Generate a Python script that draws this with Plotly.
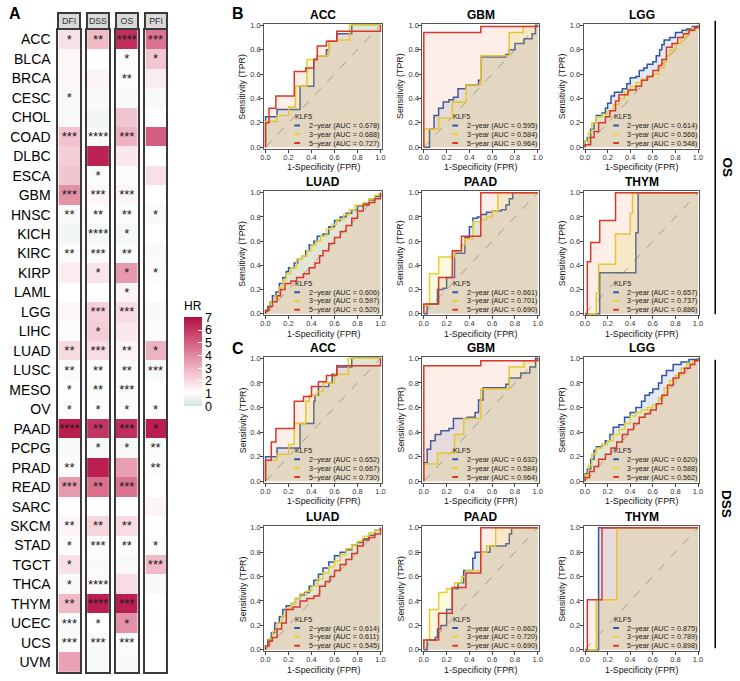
import plotly.graph_objects as go

W, H = 740, 681
FONT = "Arial, Liberation Sans, Helvetica, sans-serif"

# ---------------- Heatmap data (panel A) ----------------
cancers = ["ACC", "BLCA", "BRCA", "CESC", "CHOL", "COAD", "DLBC", "ESCA", "GBM", "HNSC",
           "KICH", "KIRC", "KIRP", "LAML", "LGG", "LIHC", "LUAD", "LUSC", "MESO", "OV",
           "PAAD", "PCPG", "PRAD", "READ", "SARC", "SKCM", "STAD", "TGCT", "THCA", "THYM",
           "UCEC", "UCS", "UVM"]
endpoints = ["DFI", "DSS", "OS", "PFI"]

hr_dfi = [1.8, 1.25, 1.2, 0.8, 0.8, 2.6, 2.3, 2.5, 3.8, 0.85, 0.7, 0.88, 1.5, 1.0, 1.2, 1.1, 2.0,
          0.88, 1.05, 1.05, 6.6, 0.85, 0.88, 3.6, 1.05, 1.3, 0.9, 1.8, 0.85, 2.8, 0.85, 0.88, 3.4]
hr_dss = [2.8, 1.05, 1.3, 0.85, 0.7, 0.85, 6.5, 0.88, 1.2, 0.9, 0.75, 0.9, 1.7, 1.0, 2.2, 2.3, 1.9,
          0.9, 0.9, 1.05, 6.0, 0.85, 6.6, 4.6, 0.95, 2.1, 0.9, 0.85, 1.15, 6.6, 1.0, 0.85, 0.85]
hr_os = [6.2, 0.9, 0.9, 0.85, 2.5, 3.0, 1.6, 0.9, 1.25, 0.9, 0.75, 0.9, 3.6, 1.3, 1.9, 1.6, 1.3,
         0.9, 0.9, 1.05, 6.2, 0.8, 3.5, 4.5, 1.0, 1.9, 0.9, 0.8, 1.9, 6.6, 3.8, 0.9, 0.85]
hr_pfi = [4.5, 2.5, 1.5, 0.85, 1.0, 5.0, 1.0, 1.8, 1.0, 0.85, 1.0, 0.85, 0.9, 1.0, 0.85, 1.1, 3.0,
          0.85, 1.0, 1.05, 6.6, 0.9, 0.9, 1.0, 1.3, 1.0, 0.9, 2.8, 0.85, 1.0, 0.95, 1.0, 1.0]

sig_dfi = ["*", "", "", "*", "", "***", "", "", "***", "**", "", "**", "", "", "", "", "**",
           "**", "*", "*", "****", "", "**", "***", "", "**", "*", "*", "*", "**", "***", "***", ""]
sig_dss = ["**", "", "", "", "", "****", "", "*", "***", "**", "****", "***", "*", "", "***", "*", "***",
           "**", "**", "*", "**", "*", "", "**", "", "**", "***", "", "****", "****", "*", "***", ""]
sig_os = ["****", "*", "**", "", "", "***", "", "", "***", "**", "*", "**", "*", "*", "***", "", "**",
          "**", "***", "*", "***", "*", "", "***", "", "**", "**", "", "", "***", "*", "***", ""]
sig_pfi = ["***", "*", "", "", "", "", "", "", "", "*", "", "", "*", "", "", "", "*",
           "***", "", "*", "*", "**", "**", "", "", "", "*", "***", "", "", "", "", ""]

hr_cols = [hr_dfi, hr_dss, hr_os, hr_pfi]
sig_cols = [sig_dfi, sig_dss, sig_os, sig_pfi]
hr_ticks = [0, 1, 2, 3, 4, 5, 6, 7]

# ---------------- ROC data (panels B: OS, C: DSS) ----------------
# each curve: (FPR breakpoints, TPR levels) drawn as horizontal-then-vertical steps
os_acc_2y = ([0, 0, 0.10, 0.30, 0.42, 0.45, 0.53, 0.55, 0.62, 0.75, 1.0],
             [0, 0.25, 0.31, 0.50, 0.72, 0.75, 0.80, 0.87, 0.93, 1.0, 1.0])
os_acc_3y = ([0, 0, 0.10, 0.20, 0.26, 0.36, 0.45, 0.55, 0.62, 0.73, 1.0],
             [0, 0.21, 0.26, 0.33, 0.50, 0.72, 0.75, 0.87, 0.88, 1.0, 1.0])
os_acc_5y = ([0, 0, 0.03, 0.09, 0.25, 0.35, 0.42, 0.45, 0.53, 0.62, 1.0, 1.0],
             [0, 0.20, 0.32, 0.42, 0.62, 0.65, 0.72, 0.83, 0.87, 0.95, 0.95, 1.0])

os_gbm_2y = ([0, 0.05, 0.09, 0.13, 0.17, 0.22, 0.26, 0.30, 0.37, 0.48, 0.50, 0.72, 0.75, 0.80, 0.88, 0.95, 0.98, 1.0],
             [0, 0.15, 0.26, 0.32, 0.37, 0.39, 0.41, 0.48, 0.51, 0.55, 0.74, 0.76, 0.80, 0.85, 0.89, 0.93, 1.0, 1.0])
os_gbm_3y = ([0, 0, 0.13, 0.25, 0.37, 0.50, 0.75, 0.87, 1.0],
             [0, 0.15, 0.24, 0.37, 0.51, 0.75, 0.94, 0.99, 1.0])
os_gbm_5y = ([0, 0, 0.50, 1.0, 1.0],
             [0, 0.94, 0.99, 0.99, 1.0])

os_lgg_2y = ([0, 0, 0.02, 0.05, 0.08, 0.10, 0.15, 0.18, 0.20, 0.23, 0.26, 0.33, 0.37, 0.40, 0.45, 0.48, 0.52,
              0.55, 0.60, 0.63, 0.66, 0.68, 0.70, 0.75, 0.80, 0.86, 0.90, 0.95, 1.0],
             [0, 0.05, 0.08, 0.15, 0.20, 0.26, 0.28, 0.32, 0.36, 0.42, 0.45, 0.48, 0.52, 0.57, 0.58, 0.63, 0.65,
              0.68, 0.70, 0.75, 0.80, 0.84, 0.88, 0.90, 0.94, 0.96, 0.97, 0.99, 1.0])
os_lgg_3y = ([0, 0, 0.03, 0.06, 0.10, 0.15, 0.20, 0.25, 0.30, 0.35, 0.40, 0.45, 0.50, 0.55, 0.60, 0.65, 0.70,
              0.72, 0.75, 0.80, 0.85, 0.90, 0.95, 1.0],
             [0, 0.05, 0.12, 0.20, 0.25, 0.27, 0.30, 0.35, 0.40, 0.45, 0.50, 0.53, 0.56, 0.58, 0.60, 0.65, 0.70,
              0.75, 0.80, 0.85, 0.90, 0.95, 0.98, 1.0])
os_lgg_5y = ([0, 0, 0.05, 0.08, 0.12, 0.18, 0.22, 0.27, 0.30, 0.38, 0.45, 0.50, 0.55, 0.60, 0.65, 0.68, 0.72,
              0.77, 0.82, 0.87, 0.92, 0.97, 1.0],
             [0, 0.02, 0.08, 0.13, 0.20, 0.25, 0.30, 0.38, 0.43, 0.47, 0.50, 0.55, 0.58, 0.63, 0.67, 0.72, 0.82,
              0.85, 0.90, 0.93, 0.96, 0.98, 1.0])

os_luad_2y = ([0, 0, 0.02, 0.04, 0.06, 0.09, 0.12, 0.15, 0.18, 0.20, 0.25, 0.28, 0.32, 0.35, 0.38, 0.42, 0.45,
               0.50, 0.55, 0.60, 0.65, 0.70, 0.75, 0.80, 0.85, 0.90, 0.95, 1.0],
              [0, 0.02, 0.06, 0.10, 0.15, 0.18, 0.25, 0.30, 0.35, 0.38, 0.42, 0.45, 0.48, 0.52, 0.57, 0.60, 0.64,
               0.66, 0.72, 0.77, 0.80, 0.83, 0.86, 0.89, 0.91, 0.94, 0.97, 1.0])
os_luad_3y = ([0, 0, 0.04, 0.08, 0.12, 0.15, 0.18, 0.22, 0.27, 0.32, 0.36, 0.40, 0.44, 0.48, 0.53, 0.58, 0.62,
               0.68, 0.73, 0.78, 0.85, 0.90, 0.95, 1.0],
              [0, 0.03, 0.10, 0.15, 0.22, 0.28, 0.33, 0.38, 0.45, 0.48, 0.52, 0.57, 0.60, 0.64, 0.70, 0.74, 0.78,
               0.82, 0.86, 0.90, 0.92, 0.95, 0.98, 1.0])
os_luad_5y = ([0, 0, 0.03, 0.06, 0.10, 0.13, 0.17, 0.22, 0.27, 0.33, 0.38, 0.43, 0.47, 0.50, 0.55, 0.60, 0.65,
               0.70, 0.75, 0.80, 0.85, 0.90, 0.95, 1.0],
              [0, 0.03, 0.06, 0.10, 0.15, 0.20, 0.25, 0.27, 0.30, 0.33, 0.38, 0.42, 0.48, 0.52, 0.58, 0.63, 0.68,
               0.73, 0.79, 0.85, 0.90, 0.92, 0.95, 1.0])

os_paad_2y = ([0, 0.03, 0.12, 0.17, 0.20, 0.27, 0.36, 0.40, 0.43, 0.47, 0.50, 0.55, 0.60, 0.68, 0.72, 0.75, 0.78, 1.0],
              [0, 0.08, 0.20, 0.21, 0.30, 0.50, 0.63, 0.72, 0.79, 0.80, 0.82, 0.84, 0.85, 0.86, 0.90, 0.95, 1.0, 1.0])
os_paad_3y = ([0, 0, 0.05, 0.13, 0.27, 0.33, 0.36, 0.43, 0.50, 0.55, 0.60, 0.65, 1.0],
              [0, 0.07, 0.33, 0.47, 0.52, 0.57, 0.62, 0.76, 0.78, 0.80, 0.85, 1.0, 1.0])
os_paad_5y = ([0, 0, 0.13, 0.25, 0.33, 0.50, 1.0],
              [0, 0.08, 0.30, 0.52, 0.64, 1.0, 1.0])

os_thym_2y = ([0, 0.13, 0.45, 0.47, 1.0],
              [0, 0.34, 0.67, 1.0, 1.0])
os_thym_3y = ([0, 0.10, 0.12, 0.27, 0.40, 0.42, 1.0],
              [0, 0.17, 0.41, 0.66, 0.83, 1.0, 1.0])
os_thym_5y = ([0, 0.02, 0.05, 0.13, 0.27, 1.0],
              [0, 0.43, 0.59, 0.77, 1.0, 1.0])

dss_acc_2y = ([0, 0, 0.10, 0.30, 0.42, 0.43, 0.46, 0.55, 0.58, 0.62, 0.75, 1.0],
              [0, 0.20, 0.27, 0.47, 0.65, 0.70, 0.77, 0.80, 0.87, 0.93, 1.0, 1.0])
dss_acc_3y = ([0, 0, 0.10, 0.20, 0.25, 0.35, 0.38, 0.45, 0.50, 0.60, 0.72, 1.0],
              [0, 0.17, 0.22, 0.30, 0.47, 0.65, 0.70, 0.73, 0.80, 0.87, 1.0, 1.0])
dss_acc_5y = ([0, 0, 0.05, 0.09, 0.25, 0.33, 0.40, 0.46, 0.53, 0.62, 1.0, 1.0],
              [0, 0.17, 0.32, 0.43, 0.65, 0.69, 0.77, 0.81, 0.86, 0.94, 0.94, 1.0])

dss_gbm_2y = ([0, 0, 0.03, 0.06, 0.10, 0.15, 0.22, 0.26, 0.38, 0.45, 0.48, 0.52, 0.72, 0.75, 0.85, 0.93, 0.98, 1.0],
              [0, 0.15, 0.26, 0.33, 0.38, 0.41, 0.43, 0.51, 0.52, 0.56, 0.66, 0.76, 0.79, 0.84, 0.88, 0.93, 1.0, 1.0])
dss_gbm_3y = ([0, 0, 0.12, 0.27, 0.35, 0.50, 0.75, 0.88, 1.0],
              [0, 0.14, 0.23, 0.38, 0.51, 0.75, 0.93, 0.98, 1.0])
dss_gbm_5y = ([0, 0, 0.50, 1.0, 1.0],
              [0, 0.94, 0.98, 0.98, 1.0])

dss_lgg_2y = ([0, 0, 0.02, 0.05, 0.08, 0.10, 0.15, 0.18, 0.22, 0.25, 0.30, 0.35, 0.40, 0.45, 0.50, 0.53, 0.57,
               0.60, 0.65, 0.68, 0.72, 0.78, 0.85, 0.92, 1.0],
              [0, 0.06, 0.10, 0.18, 0.25, 0.28, 0.30, 0.33, 0.38, 0.44, 0.46, 0.52, 0.56, 0.60, 0.65, 0.70, 0.72,
               0.75, 0.80, 0.86, 0.90, 0.95, 0.97, 0.99, 1.0])
dss_lgg_3y = ([0, 0, 0.03, 0.06, 0.10, 0.15, 0.20, 0.25, 0.30, 0.35, 0.40, 0.45, 0.50, 0.55, 0.60, 0.65, 0.70,
               0.75, 0.80, 0.85, 0.90, 0.95, 1.0],
              [0, 0.05, 0.13, 0.22, 0.27, 0.30, 0.33, 0.38, 0.42, 0.47, 0.53, 0.56, 0.58, 0.60, 0.62, 0.68, 0.76,
               0.82, 0.86, 0.92, 0.96, 0.98, 1.0])
dss_lgg_5y = ([0, 0, 0.04, 0.08, 0.12, 0.18, 0.23, 0.28, 0.33, 0.38, 0.43, 0.48, 0.53, 0.58, 0.63, 0.68, 0.73,
               0.78, 0.83, 0.88, 0.93, 0.97, 1.0],
              [0, 0.03, 0.08, 0.12, 0.18, 0.22, 0.27, 0.32, 0.38, 0.42, 0.47, 0.52, 0.55, 0.58, 0.63, 0.70, 0.78,
               0.84, 0.88, 0.92, 0.95, 0.98, 1.0])

dss_luad_2y = ([0, 0, 0.02, 0.05, 0.08, 0.12, 0.15, 0.18, 0.22, 0.26, 0.30, 0.34, 0.38, 0.42, 0.46, 0.50, 0.55,
                0.60, 0.65, 0.70, 0.75, 0.80, 0.85, 0.90, 0.95, 1.0],
               [0, 0.03, 0.08, 0.14, 0.22, 0.27, 0.33, 0.36, 0.38, 0.42, 0.45, 0.47, 0.52, 0.57, 0.62, 0.67, 0.72,
                0.77, 0.80, 0.82, 0.86, 0.88, 0.91, 0.94, 0.98, 1.0])
dss_luad_3y = ([0, 0, 0.03, 0.06, 0.10, 0.14, 0.18, 0.22, 0.26, 0.30, 0.35, 0.40, 0.45, 0.50, 0.55, 0.60, 0.65,
                0.70, 0.75, 0.80, 0.85, 0.90, 0.95, 1.0],
               [0, 0.03, 0.09, 0.15, 0.22, 0.28, 0.34, 0.38, 0.42, 0.46, 0.48, 0.52, 0.58, 0.63, 0.68, 0.73, 0.78,
                0.83, 0.86, 0.89, 0.93, 0.96, 0.98, 1.0])
dss_luad_5y = ([0, 0, 0.03, 0.06, 0.10, 0.14, 0.18, 0.24, 0.30, 0.36, 0.42, 0.47, 0.52, 0.56, 0.60, 0.65, 0.70,
                0.75, 0.80, 0.85, 0.90, 0.95, 1.0],
               [0, 0.03, 0.07, 0.10, 0.17, 0.22, 0.33, 0.35, 0.40, 0.42, 0.44, 0.52, 0.56, 0.60, 0.65, 0.70, 0.74,
                0.79, 0.85, 0.90, 0.92, 0.95, 1.0])

dss_paad_2y = ([0, 0.03, 0.10, 0.12, 0.15, 0.20, 0.25, 0.30, 0.35, 0.43, 0.45, 0.58, 0.72, 0.75, 0.77, 1.0],
               [0, 0.08, 0.10, 0.17, 0.20, 0.33, 0.50, 0.55, 0.65, 0.75, 0.80, 0.85, 0.87, 0.95, 1.0, 1.0])
dss_paad_3y = ([0, 0, 0.05, 0.13, 0.20, 0.27, 0.33, 0.37, 0.50, 0.55, 0.63, 1.0],
               [0, 0.08, 0.33, 0.47, 0.50, 0.55, 0.60, 0.65, 0.80, 0.85, 1.0, 1.0])
dss_paad_5y = ([0, 0, 0.13, 0.25, 0.37, 0.50, 1.0],
               [0, 0.08, 0.30, 0.51, 0.63, 1.0, 1.0])

dss_thym_2y = ([0, 0.12, 1.0],
               [0, 1.0, 1.0])
dss_thym_3y = ([0, 0.10, 0.28, 1.0],
               [0, 0.41, 1.0, 1.0])
dss_thym_5y = ([0, 0.02, 0.15, 1.0],
               [0, 0.41, 1.0, 1.0])

roc_titles = ["ACC", "GBM", "LGG", "LUAD", "PAAD", "THYM"]
os_curves = [(os_acc_2y, os_acc_3y, os_acc_5y), (os_gbm_2y, os_gbm_3y, os_gbm_5y),
             (os_lgg_2y, os_lgg_3y, os_lgg_5y), (os_luad_2y, os_luad_3y, os_luad_5y),
             (os_paad_2y, os_paad_3y, os_paad_5y), (os_thym_2y, os_thym_3y, os_thym_5y)]
dss_curves = [(dss_acc_2y, dss_acc_3y, dss_acc_5y), (dss_gbm_2y, dss_gbm_3y, dss_gbm_5y),
              (dss_lgg_2y, dss_lgg_3y, dss_lgg_5y), (dss_luad_2y, dss_luad_3y, dss_luad_5y),
              (dss_paad_2y, dss_paad_3y, dss_paad_5y), (dss_thym_2y, dss_thym_3y, dss_thym_5y)]
os_auc = [(0.678, 0.688, 0.727), (0.595, 0.584, 0.964), (0.614, 0.566, 0.548),
          (0.606, 0.597, 0.520), (0.661, 0.701, 0.690), (0.657, 0.737, 0.886)]
dss_auc = [(0.652, 0.667, 0.730), (0.632, 0.584, 0.964), (0.620, 0.588, 0.562),
           (0.614, 0.611, 0.545), (0.662, 0.720, 0.690), (0.875, 0.789, 0.898)]
year_labels = ["2\u2212year", "3\u2212year", "5\u2212year"]
roc_ticks = [0, 0.2, 0.4, 0.6, 0.8, 1.0]

# ---------------- styling ----------------
line_colors = ["#2F57A5", "#E3D132", "#D8372C"]
fill_colors = ["rgba(47,87,165,0.13)", "rgba(227,209,50,0.16)", "rgba(240,120,70,0.13)"]


def fx(p):
    return p / W


def fy(p):
    return 1 - p / H


col_px = [(264, 381), (424, 540), (587, 702)]
row_px = [(22, 146), (191, 314), (358, 483), (529, 653)]

fig = go.Figure()
layout = dict(width=W, height=H, margin=dict(l=0, r=0, t=0, b=0),
              paper_bgcolor="white", plot_bgcolor="white", showlegend=False,
              font=dict(family=FONT, color="#000"))
annotations = []
shapes = []


def axname(k):
    return ("xaxis" if k == 1 else f"xaxis{k}"), ("yaxis" if k == 1 else f"yaxis{k}")


def axref(k):
    return ("x" if k == 1 else f"x{k}"), ("y" if k == 1 else f"y{k}")


k = 0
for block, (curves_set, aucs_set) in enumerate([(os_curves, os_auc), (dss_curves, dss_auc)]):
    for i in range(6):
        k += 1
        r = block * 2 + i // 3
        c = i % 3
        xl, xr = col_px[c]
        yt, yb = row_px[r]
        xa, ya = axname(k)
        xref, yref = axref(k)
        axis_common = dict(range=[-0.012, 1.012], showgrid=False, zeroline=False,
                           showline=True, mirror=True, linecolor="#555", linewidth=1,
                           ticks="outside", ticklen=3, tickcolor="#444", tickwidth=1,
                           tickvals=roc_ticks, ticktext=[f"{v:.1f}" for v in roc_ticks],
                           tickfont=dict(size=7.5, color="#333"), ticklabelstandoff=-2,
                           fixedrange=True)
        layout[xa] = dict(axis_common, domain=[fx(xl - 1), fx(xr + 1)], anchor=yref)
        layout[ya] = dict(axis_common, domain=[fy(yb + 1), fy(yt - 1)], anchor=xref)
        # diagonal reference
        fig.add_trace(go.Scatter(x=[0, 1], y=[0, 1], mode="lines", xaxis=xref, yaxis=yref,
                                 line=dict(color="#8a8a8a", width=0.8, dash="dash"),
                                 hoverinfo="skip"))
        for j, (xs, ys) in enumerate(curves_set[i]):
            fig.add_trace(go.Scatter(x=xs, y=ys, mode="lines", xaxis=xref, yaxis=yref,
                                     line=dict(color=line_colors[j], width=1.5, shape="hv"),
                                     fill="tozeroy", fillcolor=fill_colors[j]))
        # title + axis titles
        annotations.append(dict(text=f"<b>{roc_titles[i]}</b>", xref="paper", yref="paper",
                                x=fx((xl + xr) / 2), y=fy(yt - 10), showarrow=False,
                                font=dict(size=12, color="#000"), xanchor="center", yanchor="middle"))
        annotations.append(dict(text="1-Specificity (FPR)", xref="paper", yref="paper",
                                x=fx((xl + xr) / 2), y=fy(yb + 19.5), showarrow=False,
                                font=dict(size=8.8, color="#111"), xanchor="center", yanchor="middle"))
        annotations.append(dict(text="Sensitivity (TPR)", xref="paper", yref="paper",
                                x=fx(xl - 23), y=fy((yt + yb) / 2), showarrow=False, textangle=-90,
                                font=dict(size=8.8, color="#111"), xanchor="center", yanchor="middle"))
        # legend
        annotations.append(dict(text="KLF5", xref=xref, yref=yref, x=0.245, y=0.25,
                                showarrow=False, xanchor="left", yanchor="middle", borderpad=0,
                                font=dict(size=7.2, color="#222")))
        for j, yy in enumerate([0.178, 0.106, 0.034]):
            annotations.append(dict(text=f"{year_labels[j]} (AUC = {aucs_set[i][j]:.3f})",
                                    xref=xref, yref=yref, x=1.0, y=yy, showarrow=False,
                                    xanchor="right", yanchor="middle", borderpad=0,
                                    font=dict(size=7.2, color="#222")))
            shapes.append(dict(type="line", xref=xref, yref=yref, x0=0.25, x1=0.3, y0=yy, y1=yy,
                               line=dict(color=line_colors[j], width=2)))

# ---------------- heatmap columns ----------------
hm_px = [(55, 77), (84, 106), (113, 135), (143, 164)]
hm_top, hm_bot = 27, 675
colorscale = [[0.0, "#D2E2DD"], [1 / 7, "#FFFFFF"], [3 / 7, "#EEB3C1"],
              [5 / 7, "#D35F80"], [1.0, "#B10F42"]]
for n in range(4):
    k += 1
    xa, ya = axname(k)
    xref, yref = axref(k)
    xl, xr = hm_px[n]
    trace = go.Heatmap(z=[[v] for v in hr_cols[n]], x=[endpoints[n]], y=cancers,
                       text=[[s] for s in sig_cols[n]], texttemplate="%{text}",
                       textfont=dict(size=13, color="#1a1a1a"),
                       colorscale=colorscale, zmin=0, zmax=7, xaxis=xref, yaxis=yref,
                       showscale=(n == 0))
    if n == 0:
        trace.colorbar = dict(x=fx(182), xanchor="left", y=fy(298), yanchor="top",
                              len=(407 - 298) / H, lenmode="fraction", thickness=18,
                              thicknessmode="pixels",
                              outlinewidth=0, tickvals=hr_ticks, ticks="inside", tickcolor="white",
                              ticklen=4, tickfont=dict(size=12.5, color="#000"), xpad=0, ypad=0,
                              title=dict(text="HR", side="top", font=dict(size=12, color="#000")))
    fig.add_trace(trace)
    layout[xa] = dict(domain=[fx(xl), fx(xr)], anchor=yref, showticklabels=False, ticks="",
                      showgrid=False, zeroline=False, showline=True, mirror=True,
                      linecolor="#3a3a3a", linewidth=2, fixedrange=True)
    layout[ya] = dict(domain=[fy(hm_bot), fy(hm_top)], anchor=xref, autorange="reversed",
                      showticklabels=(n == 0), ticks="", showgrid=False, zeroline=False,
                      showline=True, mirror=True, linecolor="#3a3a3a", linewidth=2,
                      tickfont=dict(size=14, color="#000"), ticklabelstandoff=3, fixedrange=True)
    annotations.append(dict(text=endpoints[n], xref="paper", yref="paper",
                            x=fx((xl + xr) / 2), y=fy(18.5), showarrow=False,
                            xanchor="center", yanchor="middle", width=18, height=12,
                            bgcolor="#D9D9D9", bordercolor="#3a3a3a", borderwidth=2, borderpad=1,
                            font=dict(size=8.8, color="#333")))

# ---------------- panel letters and side labels ----------------
for letter, (px, py) in {"A": (11, 11), "B": (237, 11), "C": (237, 349)}.items():
    annotations.append(dict(text=f"<b>{letter}</b>", xref="paper", yref="paper", x=fx(px), y=fy(py),
                            showarrow=False, xanchor="center", yanchor="middle",
                            font=dict(size=16, color="#000")))
for label, (y0, y1) in {"OS": (18, 314), "DSS": (360, 651)}.items():
    shapes.append(dict(type="line", xref="paper", yref="paper", x0=fx(719), x1=fx(719),
                       y0=fy(y0), y1=fy(y1), line=dict(color="#000", width=1.5)))
    annotations.append(dict(text=f"<b>{label}</b>", xref="paper", yref="paper", x=fx(731),
                            y=fy((y0 + y1) / 2), showarrow=False, textangle=90,
                            xanchor="center", yanchor="middle", font=dict(size=13.5, color="#000")))

layout["annotations"] = annotations
layout["shapes"] = shapes
fig.update_layout(**layout)
fig.write_html("out.html")
